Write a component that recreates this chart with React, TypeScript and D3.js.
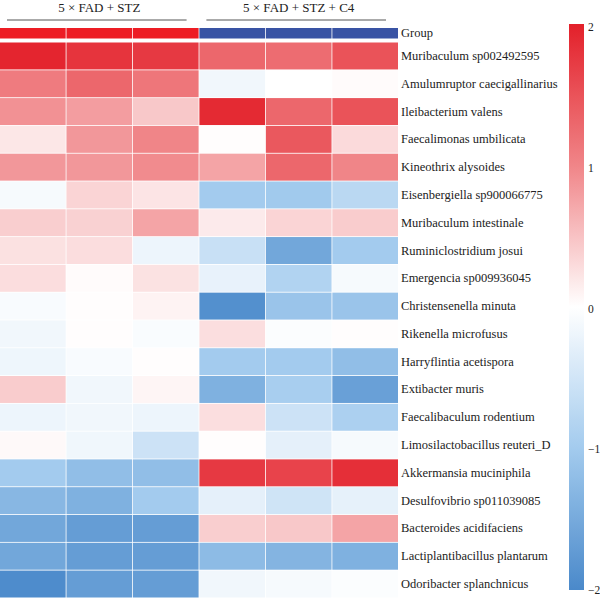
import React from 'react';
import * as d3 from 'd3';

const samples = ['S1', 'S2', 'S3', 'C1', 'C2', 'C3'];
const groupOf = ['STZ', 'STZ', 'STZ', 'C4', 'C4', 'C4'];
const groupLabels = ['5 × FAD + STZ', '5 × FAD + STZ + C4'];

const species = [
  'Muribaculum sp002492595',
  'Amulumruptor caecigallinarius',
  'Ileibacterium valens',
  'Faecalimonas umbilicata',
  'Kineothrix alysoides',
  'Eisenbergiella sp900066775',
  'Muribaculum intestinale',
  'Ruminiclostridium josui',
  'Emergencia sp009936045',
  'Christensenella minuta',
  'Rikenella microfusus',
  'Harryflintia acetispora',
  'Extibacter muris',
  'Faecalibaculum rodentium',
  'Limosilactobacillus reuteri_D',
  'Akkermansia muciniphila',
  'Desulfovibrio sp011039085',
  'Bacteroides acidifaciens',
  'Lactiplantibacillus plantarum',
  'Odoribacter splanchnicus',
];

// z-scores, one row per species, columns in sample order
const zscores = [
  [1.95, 1.8, 1.75, 1.3, 1.25, 1.5],
  [1.1, 1.3, 1.15, -0.15, 0.0, 0.03],
  [0.9, 0.8, 0.45, 1.9, 1.3, 1.5],
  [0.2, 0.85, 1.0, 0.02, 1.45, 0.3],
  [0.85, 0.85, 0.95, 0.75, 1.3, 1.0],
  [-0.1, 0.35, 0.22, -1.0, -1.02, -0.75],
  [0.4, 0.38, 0.75, 0.17, 0.35, 0.42],
  [0.25, 0.28, -0.2, -0.6, -1.55, -1.0],
  [0.28, 0.03, 0.24, -0.25, -0.85, -0.1],
  [-0.08, 0.02, 0.1, -1.9, -1.1, -1.1],
  [-0.15, 0.02, -0.06, 0.27, -0.04, 0.02],
  [-0.18, -0.08, 0.02, -1.0, -1.0, -1.2],
  [0.42, -0.15, 0.08, -1.4, -0.95, -1.65],
  [-0.2, -0.15, -0.2, 0.27, -0.55, -0.9],
  [0.05, -0.16, -0.55, 0.02, -0.28, -0.1],
  [-1.0, -1.2, -1.2, 1.75, 1.65, 1.85],
  [-1.3, -1.4, -1.0, -0.28, -0.52, -0.27],
  [-1.55, -1.7, -1.7, 0.4, 0.45, 0.75],
  [-1.55, -1.7, -1.7, -1.25, -1.35, -1.4],
  [-1.95, -1.7, -1.7, -0.15, -0.1, -0.04],
];

const legendTicks = [2, 1, 0, -1, -2];

const font = "'Liberation Serif', 'DejaVu Serif', serif";

const color = d3
  .scaleLinear<string>()
  .domain([-2, -1, 0, 1, 2])
  .range(['#4a89ca', '#a3cbee', '#ffffff', '#f08588', '#e3202a'])
  .interpolate(d3.interpolateRgb)
  .clamp(true);

const groupColor: Record<string, string> = { STZ: '#ed1c24', C4: '#3953a4' };

export default function App() {
  const width = 600;
  const height = 602;

  const x = d3.scaleBand().domain(samples).range([0, 398]).paddingInner(0.012);
  const y = d3
    .scaleBand()
    .domain(species)
    .range([42.5, 597.5])
    .paddingInner(0.03);

  const groupTop = 28;
  const groupH = 10.5;
  const labelX = 401;

  // colour bar
  const barX = 569;
  const barW = 15;
  const legendY = d3.scaleLinear().domain([2, -2]).range([27, 590]);
  const stops = d3.range(0, 41).map((i) => -2 + i * 0.1);

  const groupSpans = groupLabels.map((label, gi) => {
    const key = gi === 0 ? 'STZ' : 'C4';
    const cols = samples.filter((_, i) => groupOf[i] === key);
    const x0 = x(cols[0])!;
    const x1 = x(cols[cols.length - 1])! + x.bandwidth();
    return { label, x0, x1 };
  });

  const textStyle = { fontFamily: font };

  return (
    <svg
      width={width}
      height={height}
      style={{ position: 'absolute', left: 0, top: 0, background: '#fff', fontFamily: font }}
    >
      <defs>
        <linearGradient id="zbar" x1="0" y1="1" x2="0" y2="0">
          {stops.map((v) => (
            <stop key={v} offset={(v + 2) / 4} stopColor={color(v)} />
          ))}
        </linearGradient>
      </defs>

      {/* group brackets */}
      {groupSpans.map((g) => (
        <g key={g.label}>
          <text
            x={(g.x0 + g.x1) / 2}
            y={12}
            textAnchor="middle"
            fontSize={13}
            fill="#222"
            style={textStyle}
          >
            {g.label}
          </text>
          <line
            x1={g.x0 + 7}
            x2={g.x1 - 12}
            y1={20}
            y2={20}
            stroke="#555"
            strokeWidth={1}
          />
        </g>
      ))}

      {/* group annotation row */}
      {samples.map((s, i) => (
        <rect
          key={s}
          x={x(s)}
          y={groupTop}
          width={x.bandwidth()}
          height={groupH}
          fill={groupColor[groupOf[i]]}
        />
      ))}
      <text
        x={labelX}
        y={groupTop + groupH / 2 + 4}
        fontSize={12.5}
        fill="#222"
        style={textStyle}
      >
        Group
      </text>

      {/* heatmap cells */}
      {species.map((sp, r) => (
        <g key={sp}>
          {samples.map((s, c) => (
            <rect
              key={s}
              x={x(s)}
              y={y(sp)}
              width={x.bandwidth()}
              height={y.bandwidth()}
              fill={color(zscores[r][c])}
            />
          ))}
          <text
            x={labelX}
            y={y(sp)! + y.bandwidth() / 2 + 4}
            fontSize={12.5}
            fill="#222"
            style={textStyle}
          >
            {sp}
          </text>
        </g>
      ))}

      {/* colour legend */}
      <rect
        x={barX}
        y={legendY(2) - 3}
        width={barW}
        height={legendY(-2) - legendY(2) + 3}
        fill="url(#zbar)"
      />
      {legendTicks.map((t) => (
        <text
          key={t}
          x={barX + barW + 4}
          y={legendY(t) + 4}
          fontSize={11.5}
          fill="#222"
          style={textStyle}
        >
          {t < 0 ? `−${Math.abs(t)}` : t}
        </text>
      ))}
    </svg>
  );
}
